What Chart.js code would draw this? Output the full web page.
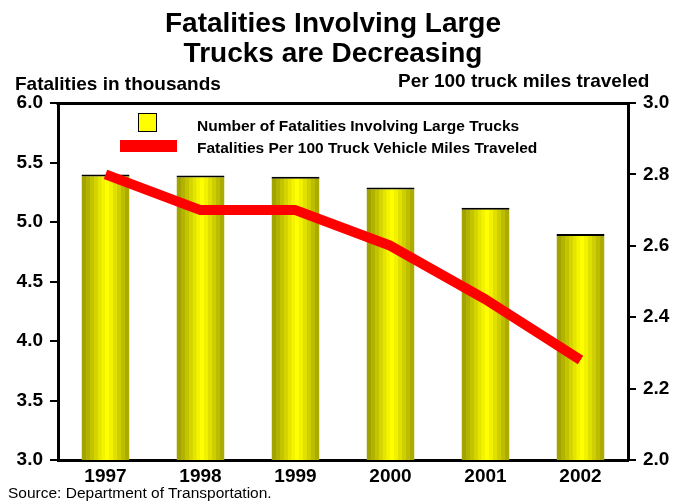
<!DOCTYPE html>
<html>
<head>
<meta charset="utf-8">
<script src="https://cdn.jsdelivr.net/npm/chart.js@4/dist/chart.umd.min.js"></script>
<style>
  html, body { margin: 0; padding: 0; background: #fff; }
  #wrap { position: relative; width: 683px; height: 503px; overflow: hidden; font-family: "Liberation Sans", Arial, sans-serif; }
  #c { position: absolute; left: 0; top: 0; }
  .t { position: absolute; white-space: nowrap; color: #000; line-height: 1; }
  #title { left: 0; width: 666px; top: 8px; text-align: center; font-weight: bold; font-size: 28px; line-height: 30px; }
  #ylab { left: 15px; top: 74px; font-weight: bold; font-size: 19px; }
  #y2lab { left: 398px; top: 71px; font-weight: bold; font-size: 19px; }
  .lg { font-weight: bold; font-size: 15.5px; left: 197px; }
  #lg1 { top: 118px; }
  #lg2 { top: 140px; }
  #box1 { position: absolute; left: 138px; top: 113px; width: 17px; height: 17px; background: #ffff00; border: 1px solid #000; }
  #box2 { position: absolute; left: 120px; top: 140px; width: 57px; height: 12px; background: #ff0000; }
  #src { left: 8px; top: 485px; font-size: 15.5px; }
</style>
</head>
<body>
<div id="wrap">
  <canvas id="c" width="683" height="503"></canvas>
  <div class="t" id="title">Fatalities Involving Large<br>Trucks are Decreasing</div>
  <div class="t" id="ylab">Fatalities in thousands</div>
  <div class="t" id="y2lab">Per 100 truck miles traveled</div>
  <div id="box1"></div>
  <div class="t lg" id="lg1">Number of Fatalities Involving Large Trucks</div>
  <div id="box2"></div>
  <div class="t lg" id="lg2">Fatalities Per 100 Truck Vehicle Miles Traveled</div>
  <div class="t" id="src">Source: Department of Transportation.</div>
</div>
<script>
// ---- data ----
const categories = ['1997', '1998', '1999', '2000', '2001', '2002'];
const fatalitiesThousands = [5.40, 5.39, 5.38, 5.29, 5.12, 4.90];
const fatalitiesPer100Miles = [2.80, 2.70, 2.70, 2.60, 2.45, 2.28];
const leftTicks = [3.0, 3.5, 4.0, 4.5, 5.0, 5.5, 6.0];
const rightTicks = [2.0, 2.2, 2.4, 2.6, 2.8, 3.0];

// ---- styles ----
const stripeColors = ['#a2a200','#b2b200','#c3c300','#d4d400','#e5e500','#f4f400','#ffff00',
                      '#f2f200','#e0e000','#cfcf00','#bdbd00','#acac00'];
const barPct = 0.505;

function barFill(c) {
  const ch = c.chart;
  const xs = ch.scales && ch.scales.x;
  if (!xs || c.type !== 'data' || !ch.chartArea) return '#ffff00';
  const cx = xs.getPixelForValue(c.dataIndex);
  const w = (xs.width / categories.length) * barPct;
  const g = ch.ctx.createLinearGradient(cx - w / 2, 0, cx + w / 2, 0);
  const n = stripeColors.length;
  stripeColors.forEach((col, i) => {
    g.addColorStop(i / n, col);
    g.addColorStop(Math.min(1, (i + 1) / n - 0.0001), col);
  });
  return g;
}

const topLine = {
  id: 'topLine',
  afterDraw(chart) {
    const { ctx, chartArea: a } = chart;
    ctx.save();
    ctx.strokeStyle = '#000';
    ctx.lineWidth = 3;
    ctx.beginPath();
    ctx.moveTo(a.left - 1.5, a.top + 0.5);
    ctx.lineTo(a.right + 1.5, a.top + 0.5);
    ctx.stroke();
    ctx.restore();
  }
};

const tickFont = { family: 'Liberation Sans, Arial, sans-serif', size: 19, weight: 'bold' };

new Chart(document.getElementById('c'), {
  data: {
    labels: categories,
    datasets: [
      {
        type: 'line',
        label: 'Fatalities Per 100 Truck Vehicle Miles Traveled',
        data: fatalitiesPer100Miles,
        yAxisID: 'y2',
        borderColor: '#ff0000',
        borderWidth: 10,
        borderCapStyle: 'butt',
        borderJoinStyle: 'round',
        pointRadius: 0,
        tension: 0,
        order: 0
      },
      {
        type: 'bar',
        label: 'Number of Fatalities Involving Large Trucks',
        data: fatalitiesThousands,
        yAxisID: 'y',
        backgroundColor: barFill,
        borderColor: '#000',
        borderWidth: { top: 2, left: 0, right: 0, bottom: 0 },
        borderSkipped: 'start',
        categoryPercentage: 1,
        barPercentage: barPct,
        order: 1
      }
    ]
  },
  options: {
    responsive: false,
    animation: false,
    events: [],
    layout: { padding: { top: 103, left: 0, right: 0, bottom: 0 } },
    plugins: { legend: { display: false }, tooltip: { enabled: false }, title: { display: false } },
    scales: {
      x: {
        type: 'category',
        grid: { display: false, drawTicks: false },
        border: { display: true, color: '#000', width: 3 },
        ticks: { font: tickFont, color: '#000', padding: 5, maxRotation: 0 },
        afterFit(s) { s.height = 43; }
      },
      y: {
        type: 'linear',
        position: 'left',
        min: leftTicks[0],
        max: leftTicks[leftTicks.length - 1],
        afterBuildTicks(s) { s.ticks = leftTicks.map(v => ({ value: v })); },
        grid: { display: true, drawOnChartArea: false, drawTicks: true, tickLength: 8, color: '#000', lineWidth: 2 },
        border: { display: true, color: '#000', width: 3 },
        ticks: { font: tickFont, color: '#000', padding: 7, callback: v => Number(v).toFixed(1) },
        afterFit(s) { s.width = 58; }
      },
      y2: {
        type: 'linear',
        position: 'right',
        min: rightTicks[0],
        max: rightTicks[rightTicks.length - 1],
        afterBuildTicks(s) { s.ticks = rightTicks.map(v => ({ value: v })); },
        grid: { display: true, drawOnChartArea: false, drawTicks: true, tickLength: 8, color: '#000', lineWidth: 2 },
        border: { display: true, color: '#000', width: 3 },
        ticks: { font: tickFont, color: '#000', padding: 7, callback: v => Number(v).toFixed(1) },
        afterFit(s) { s.width = 55; }
      }
    }
  },
  plugins: [topLine]
});
</script>
</body>
</html>
